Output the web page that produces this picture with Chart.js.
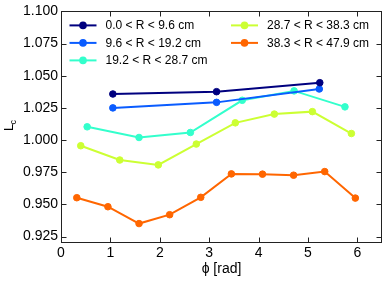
<!DOCTYPE html>
<html>
<head>
<meta charset="utf-8">
<script src="https://cdn.jsdelivr.net/npm/chart.js@4"></script>
<style>
  body { margin: 0; background: #fff; }
  canvas { display: block; }
</style>
</head>
<body>
<canvas id="lcChart" width="387" height="282"></canvas>
<script>
// tick labels
const xTicks = [0, 1, 2, 3, 4, 5, 6];
const yTicks = [0.925, 0.950, 0.975, 1.000, 1.025, 1.050, 1.075, 1.100];

// series
const seriesLabels = ['0.0 < R < 9.6 cm', '9.6 < R < 19.2 cm', '19.2 < R < 28.7 cm', '28.7 < R < 38.3 cm', '38.3 < R < 47.9 cm'];
const seriesColors = ['#00007f', '#0a5cff', '#33ffcc', '#ccff33', '#ff6600'];

const phi0 = [1.05, 3.15, 5.24];
const lc0 = [1.0358, 1.0376, 1.0446];
const phi1 = [1.05, 3.15, 5.23];
const lc1 = [1.0250, 1.0293, 1.0397];
const phi2 = [0.53, 1.58, 2.62, 3.67, 4.72, 5.75];
const lc2 = [1.0103, 1.0020, 1.0059, 1.0309, 1.0382, 1.0258];
const phi3 = [0.40, 1.19, 1.97, 2.74, 3.53, 4.32, 5.09, 5.88];
const lc3 = [0.9956, 0.9845, 0.9807, 0.9969, 1.0134, 1.0202, 1.0221, 1.0051];
const phi4 = [0.32, 0.95, 1.58, 2.20, 2.83, 3.45, 4.08, 4.71, 5.34, 5.96];
const lc4 = [0.9552, 0.9482, 0.9351, 0.9420, 0.9555, 0.9737, 0.9735, 0.9727, 0.9755, 0.9549];

const phis = [phi0, phi1, phi2, phi3, phi4];
const lcs = [lc0, lc1, lc2, lc3, lc4];

const FONT = "'Liberation Sans', Arial, Helvetica, sans-serif";

const datasets = seriesLabels.map((label, i) => ({
    label: label,
    data: phis[i].map((x, j) => ({ x: x, y: lcs[i][j] })),
    borderColor: seriesColors[i],
    backgroundColor: seriesColors[i],
    borderWidth: 2,
    pointRadius: 3.3,
    pointBorderWidth: 1,
    tension: 0
}));

// frame, inward ticks, legend and axis titles
const framePlugin = {
    id: 'frame',
    afterDraw(chart) {
        const c = chart.ctx;
        const a = chart.chartArea;
        const xs = chart.scales.x, ys = chart.scales.y;
        const L = Math.round(a.left) + 0.5, R = Math.round(a.right) - 0.5;
        const T = Math.round(a.top) + 0.5, B = Math.round(a.bottom) - 0.5;
        c.save();
        c.strokeStyle = '#222';
        c.lineWidth = 1;
        c.strokeRect(L, T, R - L, B - T);
        c.beginPath();
        xTicks.forEach(v => {
            const px = Math.round(xs.getPixelForValue(v)) + 0.5;
            c.moveTo(px, B); c.lineTo(px, B - 5);
            c.moveTo(px, T); c.lineTo(px, T + 5);
        });
        yTicks.forEach(v => {
            const py = Math.round(ys.getPixelForValue(v)) + 0.5;
            c.moveTo(L, py); c.lineTo(L + 5, py);
            c.moveTo(R, py); c.lineTo(R - 5, py);
        });
        c.stroke();

        // legend, two columns
        c.font = '12px ' + FONT;
        c.textBaseline = 'middle';
        c.textAlign = 'left';
        chart.data.datasets.forEach((ds, i) => {
            const col = i < 3 ? 0 : 1;
            const row = i < 3 ? i : i - 3;
            const x0 = a.left + (col ? 170 : 8.5);
            const y = a.top + 14 + row * 17.5;
            c.strokeStyle = ds.borderColor;
            c.lineWidth = 2;
            c.beginPath();
            c.moveTo(x0, y); c.lineTo(x0 + 27, y);
            c.stroke();
            c.fillStyle = ds.borderColor;
            c.beginPath();
            c.arc(x0 + 13.5, y, 3.8, 0, Math.PI * 2);
            c.fill();
            c.fillStyle = '#000';
            c.fillText(ds.label, x0 + 36, y + 0.5);
        });

        // x title
        c.font = '14px ' + FONT;
        c.textAlign = 'center';
        c.fillStyle = '#000';
        c.fillText('ϕ [rad]', (a.left + a.right) / 2, 269);

        // y title L_c
        c.translate(13, 131);
        c.rotate(-Math.PI / 2);
        c.textAlign = 'left';
        c.textBaseline = 'alphabetic';
        c.font = '13px ' + FONT;
        c.fillText('L', 0, 0);
        c.font = '9px ' + FONT;
        c.fillText('c', 6.5, 3);
        c.restore();
    }
};

const chart = new Chart(document.getElementById('lcChart').getContext('2d'), {
    type: 'line',
    data: { datasets: datasets },
    options: {
        responsive: false,
        animation: false,
        layout: { padding: { left: 0, right: 5, top: 11, bottom: 0 } },
        plugins: { legend: { display: false }, tooltip: { enabled: false } },
        scales: {
            x: {
                type: 'linear',
                min: 0,
                max: 6.5,
                grid: { display: false, drawTicks: false },
                border: { display: false },
                afterBuildTicks: s => { s.ticks = xTicks.map(v => ({ value: v })); },
                afterFit: s => { s.height = 39; },
                ticks: {
                    padding: 2,
                    color: '#000',
                    font: { family: FONT, size: 14 },
                    maxRotation: 0,
                    callback: v => String(v)
                }
            },
            y: {
                type: 'linear',
                min: 0.92,
                max: 1.10,
                grid: { display: false, drawTicks: false },
                border: { display: false },
                afterBuildTicks: s => { s.ticks = yTicks.map(v => ({ value: v })); },
                afterFit: s => { s.width = 61; },
                ticks: {
                    padding: 3,
                    color: '#000',
                    font: { family: FONT, size: 14 },
                    callback: v => v.toFixed(3)
                }
            }
        }
    },
    plugins: [framePlugin]
});
</script>
</body>
</html>
